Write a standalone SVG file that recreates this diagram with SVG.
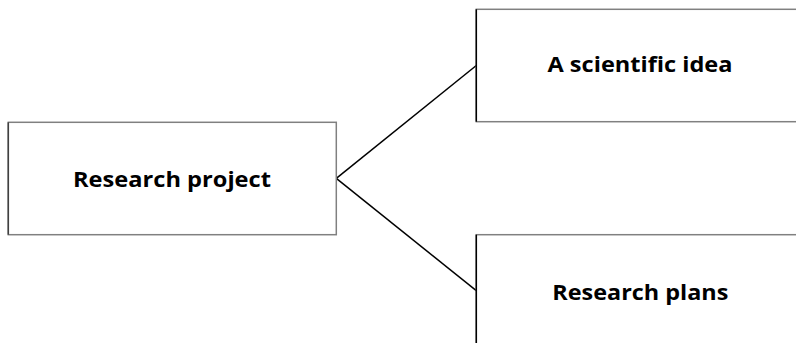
<svg xmlns="http://www.w3.org/2000/svg" width="796" height="343" viewBox="0 0 796 343">
<style>
.box{fill:#fff;stroke:#808080;stroke-width:1.5}
.edge{stroke:#000;stroke-width:1.5}
.lbl{font-family:"Open Sans","Liberation Sans",sans-serif;font-weight:bold;font-size:21px;fill:#000;text-anchor:middle}
.conn{stroke:#000;stroke-width:1.5;fill:none}
</style>
<rect width="796" height="343" fill="#fff"/>
<g id="connectors">
<line class="conn" x1="336.3" y1="178.3" x2="476.3" y2="65.5"/>
<line class="conn" x1="336.3" y1="178.3" x2="476.3" y2="290.7"/>
</g>
<g id="research-project">
<rect class="box" x="8.3" y="122.3" width="328" height="112.4"/>
<line x1="8.3" y1="122.3" x2="8.3" y2="234.7" stroke="#404040" stroke-width="1.5"/>
<text class="lbl" x="172" y="186.7" textLength="198" lengthAdjust="spacingAndGlyphs">Research project</text>
</g>
<g id="scientific-idea">
<rect class="box" x="476.3" y="9.3" width="328" height="112.4"/>
<line class="edge" x1="476.3" y1="9.3" x2="476.3" y2="121.7"/>
<text class="lbl" x="640" y="71.7" textLength="185" lengthAdjust="spacingAndGlyphs">A scientific idea</text>
</g>
<g id="research-plans">
<rect class="box" x="476.3" y="234.7" width="328" height="112.4"/>
<line class="edge" x1="476.3" y1="234.7" x2="476.3" y2="347"/>
<text class="lbl" x="640.3" y="300" textLength="176" lengthAdjust="spacingAndGlyphs">Research plans</text>
</g>
</svg>
